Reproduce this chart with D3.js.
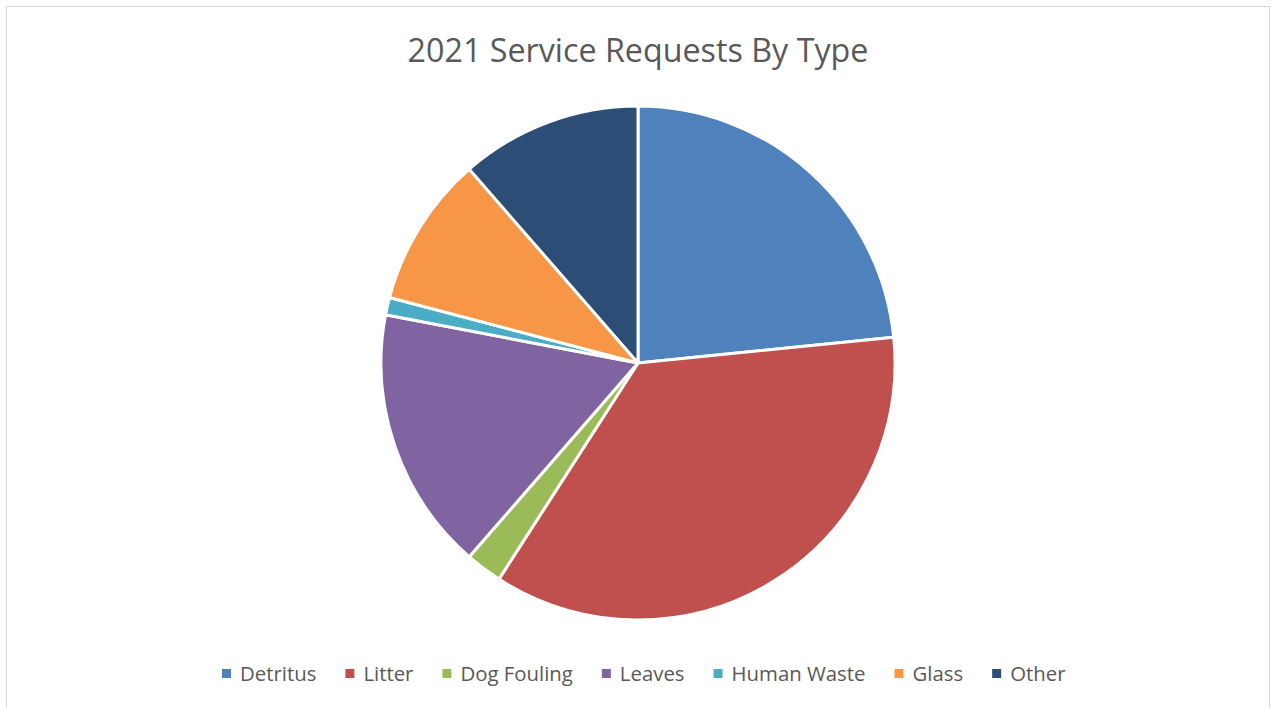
<!DOCTYPE html>
<html>
<head>
<meta charset="utf-8">
<script src="https://cdn.jsdelivr.net/npm/d3@7"></script>
<style>
  body { margin: 0; background: #fff; }
  svg { display: block; }
</style>
</head>
<body>
<svg id="chart" width="1275" height="708"></svg>
<script>
var categories = ['Detritus', 'Litter', 'Dog Fouling', 'Leaves', 'Human Waste', 'Glass', 'Other']
var values = [23.4, 35.7, 2.3, 16.6, 1.1, 9.5, 11.4]
var colors = ['#4F81BD', '#C0504D', '#9BBB59', '#8064A2', '#4BACC6', '#F79646', '#2C4D75']
var title = '2021 Service Requests By Type'

var svg = d3.select('#chart')
var fontFam = '"Open Sans", sans-serif'

// chart area border
svg.append('rect').attr('x', 6.5).attr('y', 6.5).attr('width', 1263).attr('height', 720)
  .style('fill', 'none').style('stroke', '#d9d9d9').style('stroke-width', 1)

var titleText = svg.append('text').attr('x', 638).attr('y', 62).attr('text-anchor', 'middle')
  .style('font-family', fontFam).style('font-size', '25px').style('fill', '#595959')
  .text(title)
// fit title to the reference width
var tw = titleText.node().getComputedTextLength()
titleText.style('font-size', (25 * 461 / tw) + 'px')

var cx = 638, cy = 363, r = 257
var pie = d3.pie().sort(null).value(function (d) { return d })
var arc = d3.arc().innerRadius(0).outerRadius(r)

var g = svg.append('g').attr('transform', 'translate(' + cx + ',' + cy + ')')
g.selectAll('path').data(pie(values)).enter().append('path')
  .attr('d', arc)
  .style('fill', function (d, i) { return colors[i] })
  .style('stroke', '#fff')
  .style('stroke-width', 3)
  .style('stroke-linejoin', 'round')

/** legend, laid out from measured text widths */
var legend = svg.append('g')
var texts = []
categories.forEach(function (c) {
  texts.push(legend.append('text').style('font-family', fontFam).style('font-size', '20px')
    .style('fill', '#595959').text(c))
})
var sum = d3.sum(texts, function (t) { return t.node().getComputedTextLength() })
// reference: text widths total ~ 844 - 7*18 - 6*29
var fs = 20 * (844 - 7 * 18 - 6 * 29) / sum
var x = 222
texts.forEach(function (t, i) {
  t.style('font-size', fs + 'px')
  var w = t.node().getComputedTextLength()
  legend.append('rect').attr('x', x).attr('y', 669).attr('width', 9).attr('height', 9).style('fill', colors[i])
  t.attr('x', x + 18).attr('y', 681)
  x += 18 + w + 29
})
</script>
</body>
</html>
